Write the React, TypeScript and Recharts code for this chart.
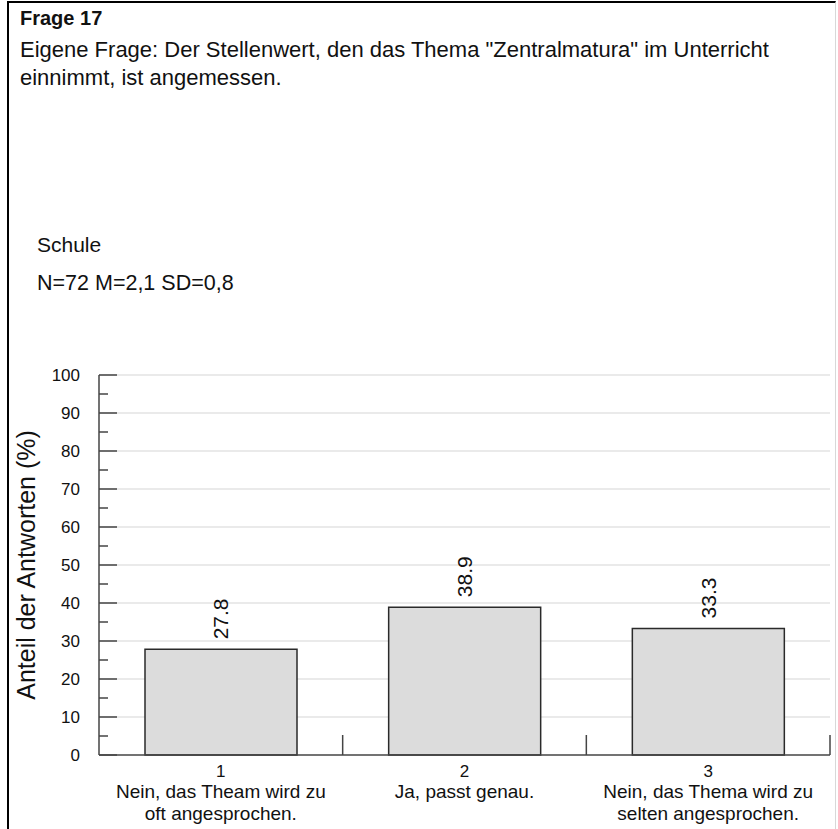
import React from 'react';
import { BarChart, Bar, XAxis, YAxis, CartesianGrid, LabelList } from 'recharts';

// Frage 17 – Anteil der Antworten je Kategorie (Schule)
const CATEGORIES = ['1', '2', '3'];
const CATEGORY_TEXT = [
  ['Nein, das Theam wird zu', 'oft angesprochen.'],
  ['Ja, passt genau.'],
  ['Nein, das Thema wird zu', 'selten angesprochen.'],
];
const PERCENT = [27.8, 38.9, 33.3];
const Y_TICKS = [0, 5, 10, 15, 20, 25, 30, 35, 40, 45, 50, 55, 60, 65, 70, 75, 80, 85, 90, 95, 100];
const GRID_VALUES = [10, 20, 30, 40, 50, 60, 70, 80, 90, 100];

const TITLE = 'Frage 17';
const QUESTION = ['Eigene Frage: Der Stellenwert, den das Thema "Zentralmatura" im Unterricht', 'einnimmt, ist angemessen.'];
const GROUP = 'Schule';
const STATS = 'N=72 M=2,1 SD=0,8';

const data = CATEGORIES.map((cat, i) => ({ cat, value: PERCENT[i] }));

const W = 838;
const H = 829;
const FONT = '"Liberation Sans", Arial, sans-serif';
const INK = '#111';
const AXIS = '#444';

const MARGIN = { top: 375, right: 8, left: 0, bottom: 0 };
const Y_AXIS_W = 99;
const X_AXIS_H = 74;
const AXIS_X = MARGIN.left + Y_AXIS_W;
const AXIS_Y = H - MARGIN.bottom - X_AXIS_H;
const PLOT_W = W - MARGIN.right - AXIS_X;
const BAND = PLOT_W / CATEGORIES.length;

const YTick = (props: any) => {
  const { y, payload } = props;
  const major = payload.value % 10 === 0;
  return (
    <g>
      <line x1={AXIS_X} x2={AXIS_X + (major ? 18 : 9)} y1={y} y2={y} stroke={AXIS} strokeWidth={1.5} />
      {major && (
        <text x={AXIS_X - 19} y={y} dy={6} textAnchor="end" fontSize={17} fontFamily={FONT} fill={INK}>
          {payload.value}
        </text>
      )}
    </g>
  );
};

const XTick = (props: any) => {
  const { x, payload, index } = props;
  const lines = CATEGORY_TEXT[index] || [];
  return (
    <g>
      <line x1={x + BAND / 2} x2={x + BAND / 2} y1={AXIS_Y - 20} y2={AXIS_Y} stroke={AXIS} strokeWidth={1.5} />
      <text x={x} y={AXIS_Y + 22} textAnchor="middle" fontSize={17} fontFamily={FONT} fill={INK}>
        {payload.value}
      </text>
      {lines.map((t, i) => (
        <text key={i} x={x} y={AXIS_Y + 43 + i * 22} textAnchor="middle" fontSize={19} fontFamily={FONT} fill={INK}>
          {t}
        </text>
      ))}
    </g>
  );
};

const ValueLabel = (props: any) => {
  const { x, y, width, value } = props;
  const cx = x + width / 2;
  const ty = y - 10;
  return (
    <text
      x={cx}
      y={ty}
      transform={`rotate(-90 ${cx} ${ty})`}
      textAnchor="start"
      dominantBaseline="central"
      fontSize={21}
      fontFamily={FONT}
      fill={INK}
    >
      {Number(value).toFixed(1)}
    </text>
  );
};

const AxisTitle = (props: any) => {
  const { viewBox } = props;
  const tx = viewBox.x + 26;
  const ty = viewBox.y + viewBox.height / 2;
  return (
    <text
      x={tx}
      y={ty}
      transform={`rotate(-90 ${tx} ${ty})`}
      textAnchor="middle"
      dominantBaseline="central"
      fontSize={25}
      fontFamily={FONT}
      fill={INK}
    >
      Anteil der Antworten (%)
    </text>
  );
};

export default function App() {
  return (
    <div style={{ position: 'absolute', left: 0, top: 0, width: W, height: H, background: '#fff', overflow: 'hidden' }}>
      {/* frame of the report page */}
      <div
        style={{
          position: 'absolute',
          left: 7,
          top: 1,
          width: W - 9,
          height: H,
          borderLeft: '2px solid #000',
          borderTop: '2px solid #000',
          borderRight: '1px solid #d8d8d8',
          boxSizing: 'border-box',
        }}
      />
      <svg width={W} height={300} style={{ position: 'absolute', left: 0, top: 0 }}>
        <text x={20} y={25} fontSize={20} fontWeight="bold" fontFamily={FONT} fill={INK}>
          {TITLE}
        </text>
        {QUESTION.map((t, i) => (
          <text key={i} x={20} y={57 + i * 28} fontSize={22} fontFamily={FONT} fill={INK}>
            {t}
          </text>
        ))}
        <text x={37} y={252} fontSize={21} fontFamily={FONT} fill={INK}>
          {GROUP}
        </text>
        <text x={37} y={290} fontSize={21.5} fontFamily={FONT} fill={INK}>
          {STATS}
        </text>
      </svg>
      <div style={{ position: 'absolute', left: 0, top: 0 }}>
        <BarChart width={W} height={H} data={data} margin={MARGIN} barSize={152}>
          <CartesianGrid vertical={false} horizontalValues={GRID_VALUES} stroke="#e3e3e3" strokeWidth={1.5} />
          <XAxis
            dataKey="cat"
            height={X_AXIS_H}
            axisLine={{ stroke: AXIS, strokeWidth: 1.5 }}
            tickLine={false}
            tick={<XTick />}
            interval={0}
          />
          <YAxis
            type="number"
            domain={[0, 100]}
            ticks={Y_TICKS}
            interval={0}
            width={Y_AXIS_W}
            axisLine={{ stroke: AXIS, strokeWidth: 1.5 }}
            tickLine={false}
            tick={<YTick />}
            label={<AxisTitle />}
          />
          <Bar dataKey="value" fill="#dcdcdc" stroke="#2a2a2a" strokeWidth={1.5} isAnimationActive={false}>
            <LabelList dataKey="value" content={<ValueLabel />} />
          </Bar>
        </BarChart>
      </div>
    </div>
  );
}
